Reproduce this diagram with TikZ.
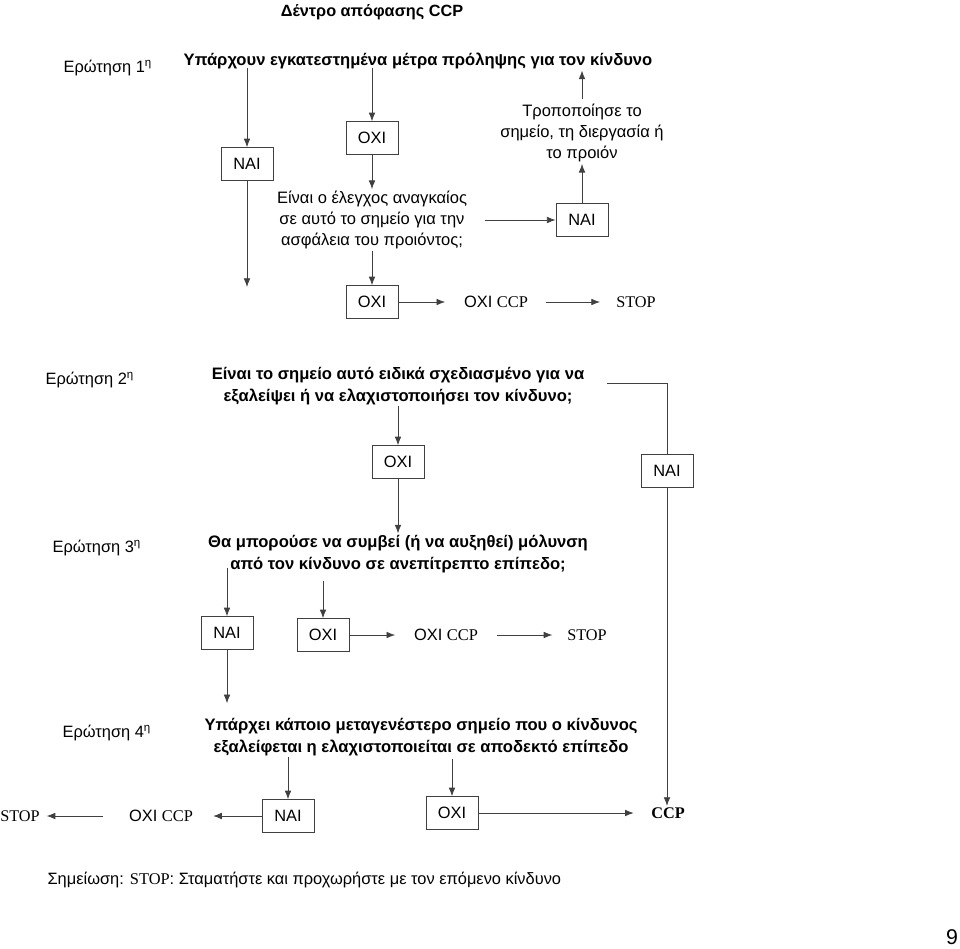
\documentclass[tikz,border=0pt]{standalone}
\usepackage{fontspec}
\setmainfont{Liberation Sans}
\newfontfamily\tmfont{Liberation Serif}
\usetikzlibrary{arrows.meta}
\begin{document}
\begin{tikzpicture}[x=0.75pt,y=-0.75pt,
  lbl/.style={font=\fontsize{12.3}{14}\selectfont, inner sep=1pt},
  qtext/.style={font=\bfseries\fontsize{12.45}{16.5}\selectfont, align=center, inner sep=1pt},
  ntext/.style={font=\fontsize{12.4}{16}\selectfont, align=center, inner sep=1pt},
  ybox/.style={draw=black!75, line width=0.6pt, minimum width=39pt, minimum height=24.5pt, inner sep=0pt, font=\fontsize{12.3}{14}\selectfont},
  tmtext/.style={font=\tmfont\fontsize{12.2}{14}\selectfont, inner sep=1pt},
  arr/.style={draw=black!75, line width=0.6pt, -{Latex[length=6.5pt,width=5pt]}},
  ln/.style={draw=black!75, line width=0.6pt}
]
\useasboundingbox (0,0) rectangle (960,949);

% title
\node[lbl, font=\bfseries\fontsize{12.2}{14}\selectfont] (title) at (372,12) {Δέντρο απόφασης CCP};

% Question 1
\node[lbl, anchor=west] (q1lbl) at (62,68) {Ερώτηση 1\textsuperscript{η}};
\node[qtext] (q1) at (418,61) {Υπάρχουν εγκατεστημένα μέτρα πρόληψης για τον κίνδυνο};
\node[ybox] (nai1) at (247,164) {ΝΑΙ};
\coordinate (c1) at (247,287);
\node[ybox] (oxi1) at (372,138) {ΟΧΙ};
\node[ntext] (need) at (372,220) {Είναι ο έλεγχος αναγκαίος\\σε αυτό το σημείο για την\\ασφάλεια του προιόντος;};
\node[ybox] (nai1b) at (582,220) {ΝΑΙ};
\node[ntext] (modify) at (582,133) {Τροποποίησε το\\σημείο, τη διεργασία ή\\το προιόν};
\node[ybox] (oxi1b) at (372,302) {ΟΧΙ};
\node[lbl] (noccp1) at (496,302) {ΟΧΙ {\tmfont CCP}};
\node[tmtext] (stop1) at (636,302) {STOP};

\draw[arr] (q1.south -| nai1) ++(0,-3) -- (nai1.north);
\draw[arr] (nai1.south) -- (c1);
\draw[arr] (q1.south -| oxi1) ++(0,-3) -- (oxi1.north);
\draw[arr] (oxi1.south) -- (need.north);
\draw[arr, shorten <=12pt] (need.east |- nai1b) -- (nai1b.west);
\draw[arr] (nai1b.north) -- (modify.south);
\draw[arr, shorten <=2pt] (modify.north) -- (q1.south -| modify);
\draw[arr] (need.south) -- (oxi1b.north);
\draw[arr, shorten >=13pt] (oxi1b.east) -- (noccp1.west);
\draw[arr, shorten <=12pt, shorten >=11pt] (noccp1.east) -- (stop1.west);

% Question 2
\node[lbl, anchor=west] (q2lbl) at (44,380) {Ερώτηση 2\textsuperscript{η}};
\node[qtext] (q2) at (398,386) {Είναι το σημείο αυτό ειδικά σχεδιασμένο για να\\εξαλείψει ή να ελαχιστοποιήσει τον κίνδυνο;};
\node[ybox] (oxi2) at (398,462) {ΟΧΙ};
\node[ybox] (nai2) at (667,471) {ΝΑΙ};
\node[font=\tmfont\bfseries\fontsize{12.2}{14}\selectfont, inner sep=1pt] (ccp) at (668,813) {CCP};

\draw[arr] (q2.south) -- (oxi2.north);
\draw[ln, shorten <=16pt] (q2.east |- 0,383) -| (nai2.north);
\draw[arr] (nai2.south) -- (nai2.south |- ccp.north);

% Question 3
\node[lbl, anchor=west] (q3lbl) at (51,548) {Ερώτηση 3\textsuperscript{η}};
\node[qtext] (q3) at (398,554) {Θα μπορούσε να συμβεί (ή να αυξηθεί) μόλυνση\\από τον κίνδυνο σε ανεπίτρεπτο επίπεδο;};
\node[ybox] (nai3) at (227,633) {ΝΑΙ};
\node[ybox] (oxi3) at (323,635) {ΟΧΙ};
\node[lbl] (noccp2) at (446,635) {ΟΧΙ {\tmfont CCP}};
\node[tmtext] (stop2) at (587,635) {STOP};

\draw[arr] (oxi2.south) -- (q3.north);
\draw[arr] (q3.center -| nai3) ++(0,14) -- (nai3.north);
\draw[arr] (q3.south -| oxi3) ++(0,6) -- (oxi3.north);
\draw[arr, shorten >=13pt] (oxi3.east) -- (noccp2.west);
\draw[arr, shorten <=13pt, shorten >=10pt] (noccp2.east) -- (stop2.west);

% Question 4
\node[lbl, anchor=west] (q4lbl) at (61,733) {Ερώτηση 4\textsuperscript{η}};
\node[qtext] (q4) at (421,737) {Υπάρχει κάποιο μεταγενέστερο σημείο που ο κίνδυνος\\εξαλείφεται η ελαχιστοποιείται σε αποδεκτό επίπεδο};
\node[ybox] (nai4) at (288,816) {ΝΑΙ};
\node[lbl] (noccp3) at (161,816) {ΟΧΙ {\tmfont CCP}};
\node[tmtext] (stop3) at (20,816) {STOP};
\node[ybox] (oxi4) at (452,813) {ΟΧΙ};

\draw[arr, shorten >=10pt] (nai3.south) -- (nai3.south |- q4.north);
\draw[arr] (q4.south -| nai4) -- (nai4.north);
\draw[arr] (q4.south -| oxi4) ++(0,2) -- (oxi4.north);
\draw[arr, shorten >=14pt] (nai4.west) -- (noccp3.east);
\draw[arr, shorten <=18pt, shorten >=4pt] (noccp3.west) -- (stop3.east);
\draw[arr, shorten >=12pt] (oxi4.east) -- (ccp.west);

% note
\node[lbl, anchor=west] (note) at (46,880) {Σημείωση: {\tmfont STOP}: Σταματήστε και προχωρήστε με τον επόμενο κίνδυνο};
\node[font=\fontsize{16}{18}\selectfont, inner sep=0pt] (page) at (952,937) {9};
\end{tikzpicture}
\end{document}
